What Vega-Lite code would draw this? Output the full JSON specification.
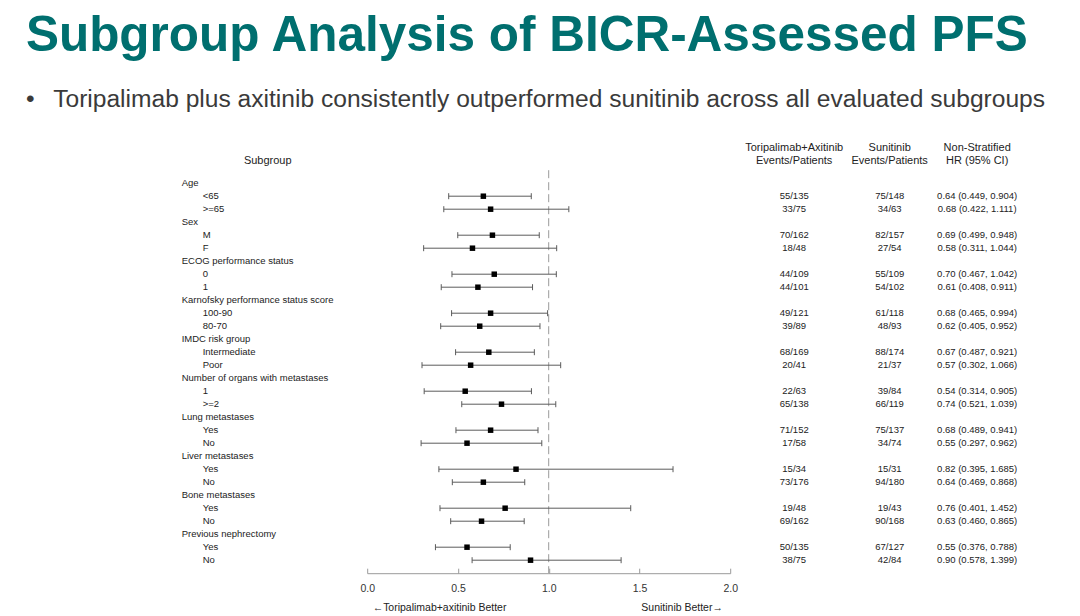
{
  "$schema": "https://vega.github.io/schema/vega-lite/v6.json",
  "padding": {"left": 25.7, "top": 10.2, "right": 5, "bottom": 2},
  "background": "white",
  "spacing": 13.5,
  "bounds": "flush",
  "config": {
    "view": {"stroke": null},
    "font": "Liberation Sans"
  },
  "title": {
    "text": "Subgroup Analysis of BICR-Assessed PFS",
    "subtitle": "•\u2002 Toripalimab plus axitinib consistently outperformed sunitinib across all evaluated subgroups",
    "anchor": "start",
    "frame": "group",
    "dx": -155.8,
    "offset": 30,
    "font": "Liberation Sans",
    "fontSize": 49.5,
    "fontWeight": "bold",
    "color": "#006f6f",
    "subtitleFont": "Liberation Sans",
    "subtitleFontSize": 24.6,
    "subtitleColor": "#3a3a3a",
    "subtitlePadding": 26.5
  },
  "datasets": {
    "rows": [
      {"row": 0, "level": "group", "label": "Age"},
      {"row": 1, "level": "item", "label": "<65", "ta": "55/135", "su": "75/148", "ci": "0.64 (0.449, 0.904)", "hr": 0.64, "lo": 0.449, "hi": 0.904},
      {"row": 2, "level": "item", "label": ">=65", "ta": "33/75", "su": "34/63", "ci": "0.68 (0.422, 1.111)", "hr": 0.68, "lo": 0.422, "hi": 1.111},
      {"row": 3, "level": "group", "label": "Sex"},
      {"row": 4, "level": "item", "label": "M", "ta": "70/162", "su": "82/157", "ci": "0.69 (0.499, 0.948)", "hr": 0.69, "lo": 0.499, "hi": 0.948},
      {"row": 5, "level": "item", "label": "F", "ta": "18/48", "su": "27/54", "ci": "0.58 (0.311, 1.044)", "hr": 0.58, "lo": 0.311, "hi": 1.044},
      {"row": 6, "level": "group", "label": "ECOG performance status"},
      {"row": 7, "level": "item", "label": "0", "ta": "44/109", "su": "55/109", "ci": "0.70 (0.467, 1.042)", "hr": 0.70, "lo": 0.467, "hi": 1.042},
      {"row": 8, "level": "item", "label": "1", "ta": "44/101", "su": "54/102", "ci": "0.61 (0.408, 0.911)", "hr": 0.61, "lo": 0.408, "hi": 0.911},
      {"row": 9, "level": "group", "label": "Karnofsky performance status score"},
      {"row": 10, "level": "item", "label": "100-90", "ta": "49/121", "su": "61/118", "ci": "0.68 (0.465, 0.994)", "hr": 0.68, "lo": 0.465, "hi": 0.994},
      {"row": 11, "level": "item", "label": "80-70", "ta": "39/89", "su": "48/93", "ci": "0.62 (0.405, 0.952)", "hr": 0.62, "lo": 0.405, "hi": 0.952},
      {"row": 12, "level": "group", "label": "IMDC risk group"},
      {"row": 13, "level": "item", "label": "Intermediate", "ta": "68/169", "su": "88/174", "ci": "0.67 (0.487, 0.921)", "hr": 0.67, "lo": 0.487, "hi": 0.921},
      {"row": 14, "level": "item", "label": "Poor", "ta": "20/41", "su": "21/37", "ci": "0.57 (0.302, 1.066)", "hr": 0.57, "lo": 0.302, "hi": 1.066},
      {"row": 15, "level": "group", "label": "Number of organs with metastases"},
      {"row": 16, "level": "item", "label": "1", "ta": "22/63", "su": "39/84", "ci": "0.54 (0.314, 0.905)", "hr": 0.54, "lo": 0.314, "hi": 0.905},
      {"row": 17, "level": "item", "label": ">=2", "ta": "65/138", "su": "66/119", "ci": "0.74 (0.521, 1.039)", "hr": 0.74, "lo": 0.521, "hi": 1.039},
      {"row": 18, "level": "group", "label": "Lung metastases"},
      {"row": 19, "level": "item", "label": "Yes", "ta": "71/152", "su": "75/137", "ci": "0.68 (0.489, 0.941)", "hr": 0.68, "lo": 0.489, "hi": 0.941},
      {"row": 20, "level": "item", "label": "No", "ta": "17/58", "su": "34/74", "ci": "0.55 (0.297, 0.962)", "hr": 0.55, "lo": 0.297, "hi": 0.962},
      {"row": 21, "level": "group", "label": "Liver metastases"},
      {"row": 22, "level": "item", "label": "Yes", "ta": "15/34", "su": "15/31", "ci": "0.82 (0.395, 1.685)", "hr": 0.82, "lo": 0.395, "hi": 1.685},
      {"row": 23, "level": "item", "label": "No", "ta": "73/176", "su": "94/180", "ci": "0.64 (0.469, 0.868)", "hr": 0.64, "lo": 0.469, "hi": 0.868},
      {"row": 24, "level": "group", "label": "Bone metastases"},
      {"row": 25, "level": "item", "label": "Yes", "ta": "19/48", "su": "19/43", "ci": "0.76 (0.401, 1.452)", "hr": 0.76, "lo": 0.401, "hi": 1.452},
      {"row": 26, "level": "item", "label": "No", "ta": "69/162", "su": "90/168", "ci": "0.63 (0.460, 0.865)", "hr": 0.63, "lo": 0.460, "hi": 0.865},
      {"row": 27, "level": "group", "label": "Previous nephrectomy"},
      {"row": 28, "level": "item", "label": "Yes", "ta": "50/135", "su": "67/127", "ci": "0.55 (0.376, 0.788)", "hr": 0.55, "lo": 0.376, "hi": 0.788},
      {"row": 29, "level": "item", "label": "No", "ta": "38/75", "su": "42/84", "ci": "0.90 (0.578, 1.399)", "hr": 0.90, "lo": 0.578, "hi": 1.399}
    ]
  },
  "hconcat": [
    {
      "width": 172,
      "height": 403,
      "title": {"text": "Subgroup", "anchor": "middle", "fontSize": 11, "fontWeight": "normal", "color": "#222222", "offset": 4, "lineHeight": 13},
      "data": {"name": "rows"},
      "mark": {"type": "text", "align": "left", "baseline": "middle", "fontSize": 9.5, "color": "#222222"},
      "encoding": {
        "x": {"field": "level", "type": "nominal", "scale": {"type": "point", "domain": ["group", "item"], "range": [0, 21], "padding": 0}, "axis": null},
        "y": {"field": "row", "type": "quantitative", "scale": {"domain": [-1, 30], "reverse": true, "nice": false, "zero": false}, "axis": null},
        "text": {"field": "label"}
      }
    },
    {
      "width": 363,
      "height": 403,
      "layer": [
        {
          "data": {"values": [{"ref": 1}]},
          "mark": {"type": "rule", "color": "#9a9a9a", "strokeDash": [8, 4], "strokeWidth": 1},
          "encoding": {"x": {"field": "ref", "type": "quantitative", "scale": {"domain": [0, 2], "nice": false, "zero": false}, "title": null}}
        },
        {
          "data": {"name": "rows"},
          "transform": [{"filter": "isValid(datum.hr)"}],
          "layer": [
            {
              "mark": {"type": "rule", "color": "#5a5a5a", "strokeWidth": 1},
              "encoding": {
                "x": {"field": "lo", "type": "quantitative", "scale": {"domain": [0, 2], "nice": false, "zero": false}, "title": null,
                  "axis": {"values": [0, 0.5, 1, 1.5, 2], "format": ".1f", "grid": false, "domainColor": "#9a9a9a", "tickColor": "#9a9a9a", "tickSize": -5, "labelPadding": 15, "labelFontSize": 10.5, "labelColor": "#333333", "labelFont": "Liberation Sans", "labelFlush": false}},
                "x2": {"field": "hi"},
                "y": {"field": "row", "type": "quantitative", "scale": {"domain": [-1, 30], "reverse": true, "nice": false, "zero": false}, "axis": null}
              }
            },
            {
              "mark": {"type": "point", "shape": "M0,-1L0,1", "size": 36, "filled": false, "stroke": "#5a5a5a", "strokeWidth": 1, "opacity": 1},
              "encoding": {
                "x": {"field": "lo", "type": "quantitative", "title": null},
                "y": {"field": "row", "type": "quantitative", "axis": null}
              }
            },
            {
              "mark": {"type": "point", "shape": "M0,-1L0,1", "size": 36, "filled": false, "stroke": "#5a5a5a", "strokeWidth": 1, "opacity": 1},
              "encoding": {
                "x": {"field": "hi", "type": "quantitative", "title": null},
                "y": {"field": "row", "type": "quantitative", "axis": null}
              }
            },
            {
              "mark": {"type": "point", "shape": "square", "size": 30, "filled": true, "color": "#000000", "opacity": 1},
              "encoding": {
                "x": {"field": "hr", "type": "quantitative", "title": null},
                "y": {"field": "row", "type": "quantitative", "axis": null}
              }
            }
          ]
        },
        {
          "data": {"values": [{"note": "←Toripalimab+axitinib Better", "favours": 0.03, "pos": 32.7}]},
          "mark": {"type": "text", "align": "left", "baseline": "middle", "fontSize": 10.5, "color": "#222222"},
          "encoding": {"x": {"field": "favours", "type": "quantitative", "title": null}, "y": {"field": "pos", "type": "quantitative", "axis": null}, "text": {"field": "note"}}
        },
        {
          "data": {"values": [{"note": "Sunitinib Better→", "favours": 1.96, "pos": 32.7}]},
          "mark": {"type": "text", "align": "right", "baseline": "middle", "fontSize": 10.5, "color": "#222222"},
          "encoding": {"x": {"field": "favours", "type": "quantitative", "title": null}, "y": {"field": "pos", "type": "quantitative", "axis": null}, "text": {"field": "note"}}
        }
      ]
    },
    {
      "width": 101,
      "height": 403,
      "title": {"text": ["Toripalimab+Axitinib", "Events/Patients"], "anchor": "middle", "fontSize": 11, "fontWeight": "normal", "color": "#222222", "offset": 4, "lineHeight": 13},
      "data": {"name": "rows"},
      "transform": [{"filter": "isValid(datum.hr)"}],
      "mark": {"type": "text", "align": "center", "baseline": "middle", "fontSize": 9.5, "color": "#222222"},
      "encoding": {
        "y": {"field": "row", "type": "quantitative", "scale": {"domain": [-1, 30], "reverse": true, "nice": false, "zero": false}, "axis": null},
        "text": {"field": "ta"}
      }
    },
    {
      "width": 63,
      "height": 403,
      "title": {"text": ["Sunitinib", "Events/Patients"], "anchor": "middle", "fontSize": 11, "fontWeight": "normal", "color": "#222222", "offset": 4, "lineHeight": 13},
      "data": {"name": "rows"},
      "transform": [{"filter": "isValid(datum.hr)"}],
      "mark": {"type": "text", "align": "center", "baseline": "middle", "fontSize": 9.5, "color": "#222222"},
      "encoding": {
        "y": {"field": "row", "type": "quantitative", "scale": {"domain": [-1, 30], "reverse": true, "nice": false, "zero": false}, "axis": null},
        "text": {"field": "su"}
      }
    },
    {
      "width": 85,
      "height": 403,
      "title": {"text": ["Non-Stratified", "HR (95% CI)"], "anchor": "middle", "fontSize": 11, "fontWeight": "normal", "color": "#222222", "offset": 4, "lineHeight": 13},
      "data": {"name": "rows"},
      "transform": [{"filter": "isValid(datum.hr)"}],
      "mark": {"type": "text", "align": "center", "baseline": "middle", "fontSize": 9.5, "color": "#222222"},
      "encoding": {
        "y": {"field": "row", "type": "quantitative", "scale": {"domain": [-1, 30], "reverse": true, "nice": false, "zero": false}, "axis": null},
        "text": {"field": "ci"}
      }
    }
  ]
}
